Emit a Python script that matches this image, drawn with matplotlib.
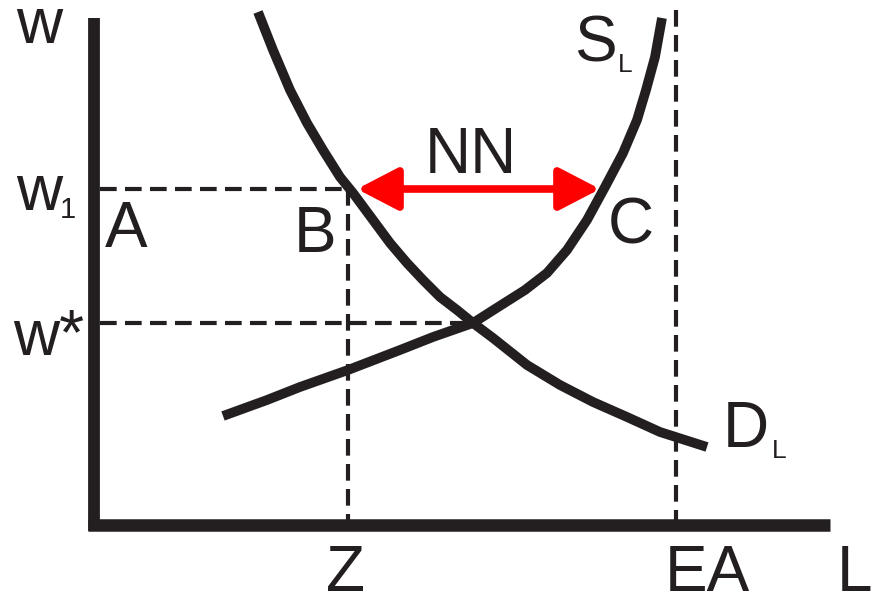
import matplotlib.pyplot as plt

# coordinates (pixel space, y grows downward)
demand_x = [258, 273, 290, 307, 323, 340, 353, 373, 390, 407, 423, 440, 457, 473,
            493, 527, 560, 593, 627, 660, 707]
demand_y = [12, 50, 90, 123, 150, 177, 193, 220, 243, 263, 280, 297, 310, 323,
            338, 365, 385, 402, 417, 432, 447]
supply_x = [223, 267, 300, 348, 400, 433, 473, 495, 525, 547, 567, 587, 605, 623,
            637, 646, 655, 662]
supply_y = [416, 400, 387, 370, 350, 337, 323, 309, 290, 273, 250, 220, 187, 153,
            120, 90, 57, 18]

w1_level = 189
wstar_level = 323
z_pos = 348
ea_pos = 676
nn_left, nn_right = 357, 600

ink = '#231f20'
plt.rcParams['font.family'] = ['Liberation Sans', 'DejaVu Sans']

fig = plt.figure(figsize=(8.76, 5.97), dpi=100)
ax = fig.add_axes([0, 0, 1, 1])
ax.set_xlim(0, 876)
ax.set_ylim(597, 0)
ax.axis('off')

# axes of the diagram
ax.plot([94, 94], [18, 531], color=ink, lw=8.5, solid_capstyle='butt')
ax.plot([88, 830], [525, 525], color=ink, lw=9, solid_capstyle='butt')

# dashed guide lines
dash = dict(color=ink, lw=3, dashes=(4, 2))
ax.plot([100, z_pos], [w1_level, w1_level], **dash)
ax.plot([100, 473], [wstar_level, wstar_level], **dash)
ax.plot([z_pos, z_pos], [w1_level, 520], **dash)
ax.plot([ea_pos, ea_pos], [10, 520], **dash)

# supply and demand curves
ax.plot(demand_x, demand_y, color=ink, lw=7, solid_capstyle='butt', solid_joinstyle='round')
ax.plot(supply_x, supply_y, color=ink, lw=7, solid_capstyle='butt', solid_joinstyle='round')

# red double arrow NN
ax.annotate('', xy=(nn_right, w1_level), xytext=(nn_left, w1_level),
            arrowprops=dict(arrowstyle='<|-|>,head_length=25,head_width=13',
                            mutation_scale=1, color='#ff0000', lw=5.5,
                            shrinkA=0, shrinkB=0))

big = 46
kw = dict(ha='center', va='baseline', color=ink)
ax.text(39, 43, 'w', fontsize=big, **kw)
ax.text(39, 210, 'w', fontsize=big, **kw)
ax.text(68, 218, '1', fontsize=21, **kw)
ax.text(126, 247, 'A', fontsize=big, **kw)
ax.text(49, 355, 'w*', fontsize=big, **kw)
ax.text(315, 252, 'B', fontsize=big, **kw)
ax.text(631, 244, 'C', fontsize=big, **kw)
ax.text(471, 173, 'NN', fontsize=big, **kw)
ax.text(595, 61, 'S', fontsize=big, **kw)
ax.text(625, 72, 'L', fontsize=19, **kw)
ax.text(746, 447, 'D', fontsize=big, **kw)
ax.text(779, 458, 'L', fontsize=19, **kw)
ax.text(345, 591, 'Z', fontsize=big, **kw)
ax.text(707, 591, 'EA', fontsize=big, **kw)
ax.text(854, 591, 'L', fontsize=big, **kw)

fig.savefig('out.png', dpi=100)
